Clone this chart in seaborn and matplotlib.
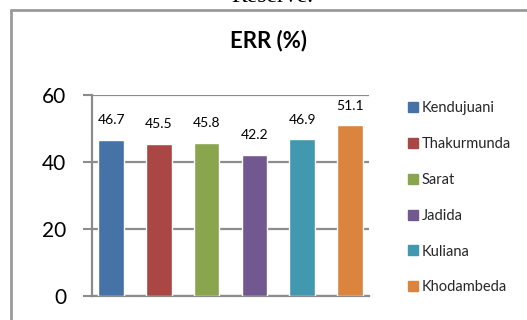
import matplotlib
matplotlib.use("Agg")
import matplotlib.pyplot as plt
from matplotlib.lines import Line2D
import seaborn as sns
import pandas as pd

sites = ["Kendujuani", "Thakurmunda", "Sarat", "Jadida", "Kuliana", "Khodambeda"]
err_pct = [46.7, 45.5, 45.8, 42.2, 46.9, 51.1]
bar_colors = ["#4572A7", "#AA4643", "#89A54E", "#71588F", "#4198AF", "#DB843D"]
y_ticks = [0, 20, 40, 60]

sns.set_theme(style="white")
plt.rcParams["font.family"] = ["Lato", "DejaVu Sans"]

W, H = 527, 320
fig = plt.figure(figsize=(W / 100, H / 100), dpi=100)
ax = fig.add_axes([92 / W, 1 - 296 / H, (369 - 92) / W, (296 - 95) / H])

df = pd.DataFrame({"site": sites, "err": err_pct})
sns.barplot(data=df, x="site", y="err", hue="site", palette=bar_colors,
            legend=False, width=0.53, saturation=1, ax=ax, zorder=3)

ax.set_ylim(0, 60)
ax.set_xlim(-0.4, 5.4)
ax.set_yticks(y_ticks)
ax.set_xticks([])
ax.set_xlabel("")
ax.set_ylabel("")
ax.tick_params(axis="y", direction="out", length=6.5, width=1.5, color="#8C8C8C",
               pad=12, labelsize=15, labelcolor="black", left=True)
ax.yaxis.grid(True, color="#8C8C8C", linewidth=1.6)
ax.set_axisbelow(True)
for side in ["top", "right"]:
    ax.spines[side].set_visible(False)
for side in ["left", "bottom"]:
    ax.spines[side].set_color("#8C8C8C")
    ax.spines[side].set_linewidth(1.6)

# value labels above each bar
for i, v in enumerate(err_pct):
    ax.annotate(f"{v:.1f}", xy=(i, v), xytext=(0, 11), textcoords="offset points",
                ha="center", va="baseline", fontsize=10, color="black")

# chart title
fig.text(269 / W, 1 - 47 / H, "ERR (%)", ha="center", va="baseline",
         fontsize=16, fontweight="bold", color="black")

# caption line from the surrounding page
fig.text(272 / W, 1 - 2 / H, "Reserve.", ha="center", va="baseline",
         fontsize=17, family="Liberation Serif", color="black")

# chart area border
fig.add_artist(Line2D([11 / W, 1.0], [1 - 10 / H, 1 - 10 / H], color="#9A9A9A",
                      linewidth=2, transform=fig.transFigure))
fig.add_artist(Line2D([11 / W, 11 / W], [0.0, 1 - 10 / H], color="#9A9A9A",
                      linewidth=2, transform=fig.transFigure))

# legend
handles = [Line2D([0], [0], marker="s", linestyle="none", markersize=6.5,
                  markerfacecolor=c, markeredgecolor=c) for c in bar_colors]
fig.legend(handles, sites, loc="upper left", bbox_to_anchor=(408 / W, 1 - 101 / H),
           frameon=False, fontsize=10.5, handlelength=0.65, handletextpad=0.3,
           labelspacing=1.5, borderaxespad=0, borderpad=0)

fig.savefig("out.png", dpi=100)
